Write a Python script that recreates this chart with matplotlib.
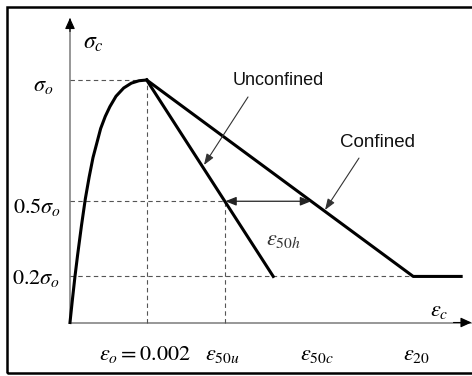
import matplotlib.pyplot as plt
from matplotlib.patches import Rectangle

plt.rcParams['mathtext.fontset'] = 'stix'
plt.rcParams['font.family'] = ['Liberation Sans', 'DejaVu Sans']

# rising branch (strain, stress/peak stress)
rise_strain = [0, 0.00006, 0.00013, 0.0002, 0.0003, 0.0004, 0.0005, 0.0006, 0.0007,
               0.0008, 0.00092, 0.00104, 0.0012, 0.0014, 0.0016, 0.0018, 0.002]
rise_stress = [0, 0.09, 0.19, 0.28, 0.40, 0.51, 0.60, 0.68, 0.74,
               0.80, 0.85, 0.89, 0.933, 0.967, 0.987, 0.997, 1.0]

# descending branches
unconf_strain = [0.002, 0.0053]
unconf_stress = [1.0, 0.19]
conf_strain = [0.002, 0.00895, 0.0102]
conf_stress = [1.0, 0.19, 0.19]

eps_o = 0.002
eps_50u = 0.00405
eps_50c = 0.00629
eps_20 = 0.00895
levels = [1.0, 0.5, 0.19]
level_labels = [r'$\sigma_o$', r'$0.5\sigma_o$', r'$0.2\sigma_o$']

x_labels = [r'$\varepsilon_o = 0.002$', r'$\varepsilon_{50u}$', r'$\varepsilon_{50c}$', r'$\varepsilon_{20}$']
x_label_pos = [0.00196, 0.00398, 0.00643, 0.00904]

fig = plt.figure(figsize=(4.72, 3.76), dpi=100)
ax = fig.add_axes([0, 0, 1, 1])
ax.set_xlim(-0.001825, 0.010483)
ax.set_ylim(-0.2206, 1.3299)
ax.axis('off')

# frame around the picture
fig.add_artist(Rectangle((6.5 / 472, 3.5 / 376), 1.0, 366 / 376, transform=fig.transFigure,
                         fill=False, edgecolor='black', linewidth=1.8, clip_on=False))

# axes with arrows
axis_grey = '#7a7a7a'
ax.plot([0, 0], [0, 1.25], color=axis_grey, lw=1.1)
ax.plot([0, 0.01045], [0, 0], color=axis_grey, lw=1.1)
ax.annotate('', xy=(0, 1.2557), xytext=(0, 1.2),
            arrowprops=dict(arrowstyle='-|>,head_length=0.55,head_width=0.25', color='black',
                            lw=0.8, mutation_scale=12, shrinkA=0, shrinkB=0))
ax.annotate('', xy=(0.01047, 0), xytext=(0.0100, 0),
            arrowprops=dict(arrowstyle='-|>,head_length=0.55,head_width=0.25', color='black',
                            lw=0.8, mutation_scale=12, shrinkA=0, shrinkB=0))

# dashed guide lines
dash = dict(color='#555555', lw=0.8, ls=(0, (4, 3)))
ax.plot([0, eps_o], [levels[0], levels[0]], **dash)
ax.plot([eps_o, eps_o], [0, levels[0]], **dash)
ax.plot([0, eps_50u], [levels[1], levels[1]], **dash)
ax.plot([eps_50u, eps_50u], [0, levels[1]], **dash)
ax.plot([0, eps_20], [levels[2], levels[2]], **dash)

# stress-strain curves
ax.plot(rise_strain, rise_stress, color='black', lw=2.2, solid_joinstyle='round')
ax.plot(unconf_strain, unconf_stress, color='black', lw=2.2)
ax.plot(conf_strain, conf_stress, color='black', lw=2.2)

# eps_50h double arrow
ax.annotate('', xy=(eps_50u, 0.5), xytext=(eps_50c, 0.5),
            arrowprops=dict(arrowstyle='<|-|>,head_length=0.55,head_width=0.22', color='#222222',
                            lw=0.9, mutation_scale=12, shrinkA=0, shrinkB=0))
ax.text(0.00556, 0.343, r'$\varepsilon_{50h}$', fontsize=16, color='#333333', ha='center', va='center')

# callouts
call = dict(arrowstyle='-|>,head_length=0.55,head_width=0.2', color='#333333', lw=0.8,
            mutation_scale=12, shrinkA=0, shrinkB=0)
ax.annotate('', xy=(0.003494, 0.6495), xytext=(0.004642, 0.930), arrowprops=call)
ax.annotate('', xy=(0.00665, 0.464), xytext=(0.007536, 0.678), arrowprops=call)
ax.text(0.00543, 0.997, 'Unconfined', fontsize=13, ha='center', va='center', color='#111111')
ax.text(0.008013, 0.7416, 'Confined', fontsize=13.5, ha='center', va='center', color='#111111')

# axis labels
ax.text(0.0006, 1.1526, r'$\sigma_c$', fontsize=17, ha='center', va='center')
ax.text(0.00963, 0.0515, r'$\varepsilon_c$', fontsize=16, ha='center', va='center')
label_x = [-0.000696, -0.000869, -0.000887]
label_y = [0.979, 0.4776, 0.182]
for lx, ly, lab in zip(label_x, label_y, level_labels):
    ax.text(lx, ly, lab, fontsize=16, ha='center', va='center')
for px, lab in zip(x_label_pos, x_labels):
    ax.text(px, -0.134, lab, fontsize=16, ha='center', va='center')

fig.savefig('out.png', dpi=100)
